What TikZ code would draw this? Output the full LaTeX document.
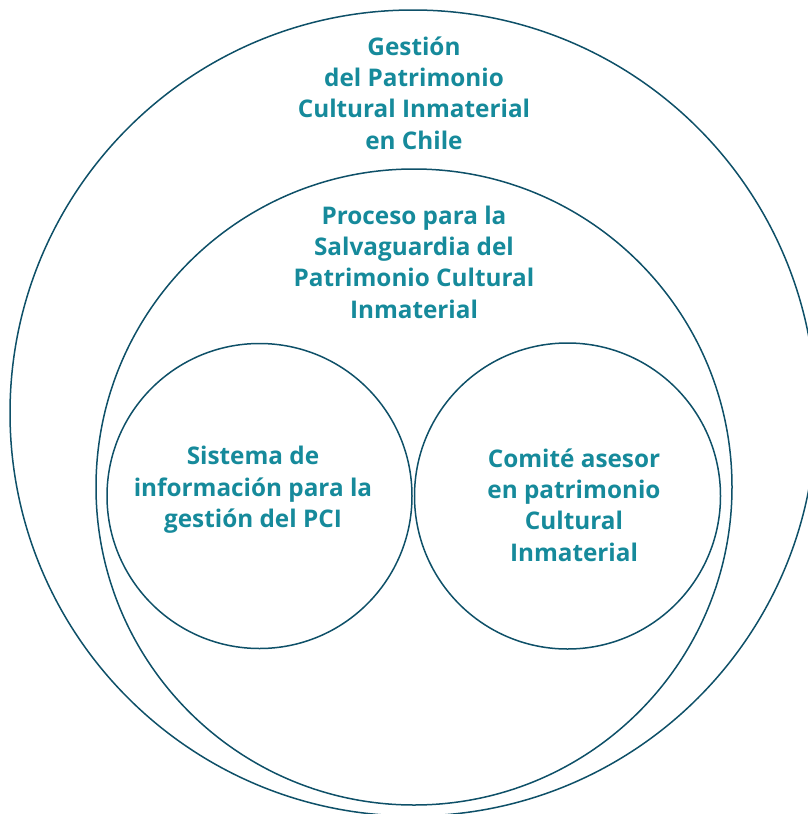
\documentclass[tikz,border=0pt]{standalone}
\usepackage{fontspec}
\setmainfont{Open Sans}
\definecolor{ringcol}{HTML}{0E5068}
\definecolor{txtcol}{HTML}{168A9B}
\begin{document}
\begin{tikzpicture}[x=1pt,y=-1pt,
  ring/.style={circle, draw=ringcol, line width=1.5pt, inner sep=0pt, outer sep=0pt},
  lbl/.style={text=txtcol, font=\fontsize{24.3}{31.4}\selectfont\bfseries, align=center, inner sep=0pt}]
\useasboundingbox (0,0) rectangle (808,814);
\node[ring, minimum size=806pt] (outer) at (413,413) {};
\node[ring, minimum size=636pt] (middle) at (414,487) {};
\node[ring, minimum size=305pt] (left) at (259.5,496) {};
\node[ring, minimum size=306pt] (right) at (567.5,496) {};
\node[lbl] (t1) at (414,93) {Gestión\\del Patrimonio\\Cultural Inmaterial\\en Chile};
\node[lbl] (t2) at (414,262) {Proceso para la\\Salvaguardia del\\Patrimonio Cultural\\Inmaterial};
\node[lbl] (t3) at (253,490) {Sistema de\\información para la\\gestión del PCI};
\node[lbl] (t4) at (574,505) {Comité asesor\\en patrimonio\\Cultural\\Inmaterial};
\end{tikzpicture}
\end{document}
